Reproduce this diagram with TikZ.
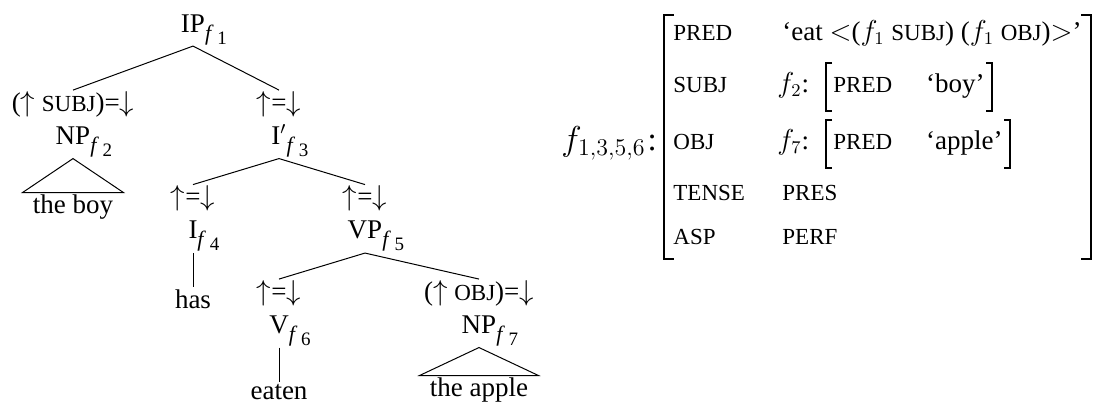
\documentclass[tikz,border=0pt]{standalone}
\usepackage[no-math]{fontspec}
\setmainfont{Liberation Serif}
\usetikzlibrary{positioning, fit}

% feature names, set as small capitals
\newcommand{\feat}[1]{{\fontsize{11.5}{13}\selectfont #1}}
% the index f_n hung after a category label
\newcommand{\fsub}[1]{\rlap{\raisebox{-4pt}{\fontsize{11}{11}\selectfont\textit{f}\,\raisebox{-2pt}{\fontsize{9.5}{9.5}\selectfont #1}}}}
\newcommand{\upeq}{$\uparrow$=$\downarrow$}
% square brackets round a node
\newcommand{\brackets}[3][]{%
  \draw[#1] ([xshift=#3]#2.north west) -| (#2.south west) -- ++(#3,0);
  \draw[#1] ([xshift=-#3]#2.north east) -| (#2.south east) -- ++(-#3,0);}

\begin{document}
\begin{tikzpicture}[
    x=0.5pt, y=-0.5pt,
    font=\fontsize{13.5}{16.5}\selectfont,
    cat/.style={align=center, inner sep=0.5pt},
    leaf/.style={inner xsep=5pt, inner ysep=1pt},
    branch/.style={line width=0.5pt},
    avm/.style={anchor=base west, inner sep=0pt, text height=0.72em, text depth=0.22em},
    innerfs/.style={avm, minimum height=23.5pt, inner xsep=3.5pt},
    outerbrk/.style={line width=1pt},
    innerbrk/.style={line width=0.75pt}
]
\useasboundingbox (0,0) rectangle (1112,403);

% c-structure
\node[cat, anchor=base] (ip) at (193,32) {IP\fsub{1}};
\node[cat, below=22pt of ip, xshift=-60pt] (np2) {($\uparrow$ \feat{SUBJ})=$\downarrow$\\NP\fsub{2}};
\node[cat, below=22pt of ip, xshift=43pt] (i3) {\upeq\\I$'$\fsub{3}};
\node[cat, below=13pt of i3, xshift=-43pt] (i4) {\upeq\\I\fsub{4}};
\node[cat, below=13pt of i3, xshift=43pt] (vp5) {\upeq\\VP\fsub{5}};
\node[cat, below=13pt of vp5, xshift=-43pt] (v6) {\upeq\\V\fsub{6}};
\node[cat, below=13pt of vp5, xshift=57pt] (np7) {($\uparrow$ \feat{OBJ})=$\downarrow$\\NP\fsub{7}};

% words
\node[leaf, below=17pt of np2] (boy) {the boy};
\node[leaf, below=17pt of i4] (has) {has};
\node[leaf, below=17pt of v6] (eaten) {eaten};
\node[leaf, below=14pt of np7] (apple) {the apple};

% branches
\draw[branch] (ip.south) -- (np2.north);
\draw[branch] (ip.south) -- (i3.north);
\draw[branch] (i3.south) -- (i4.north);
\draw[branch] (i3.south) -- (vp5.north);
\draw[branch] (vp5.south) -- (v6.north);
\draw[branch] (vp5.south) -- (np7.north);
\draw[branch] (i4.south) -- (has.north);
\draw[branch] (v6.south) -- (eaten.north);
\draw[branch] (np2.south) -- (boy.north west) -- (boy.north east) -- cycle;
\draw[branch] (np7.south) -- (apple.north west) -- (apple.north east) -- cycle;

% f-structure
\node[avm] (fname) at (561,150) {\fontsize{16.5}{18}\selectfont$f_{1,3,5,6}$\kern1pt:};
\node[avm] (apred) at (673,40) {\feat{PRED}};
\node[avm] (vpred) at (782,40) {`eat $<$($f_1$ \feat{SUBJ}) ($f_1$ \feat{OBJ})$>$'};
\node[avm] (asubj) at (673,92) {\feat{SUBJ}};
\node[avm] (lsubj) at (777,92) {$f_2$:};
\node[innerfs] (vsubj) at (826,92) {\feat{PRED}\hspace{17pt}`boy'};
\node[avm] (aobj) at (673,149) {\feat{OBJ}};
\node[avm] (lobj) at (777,149) {$f_7$:};
\node[innerfs] (vobj) at (826,149) {\feat{PRED}\hspace{17pt}`apple'};
\node[avm] (atense) at (673,200) {\feat{TENSE}};
\node[avm] (vtense) at (782,200) {\feat{PRES}};
\node[avm] (aasp) at (673,244) {\feat{ASP}};
\node[avm] (vasp) at (782,244) {\feat{PERF}};
\node[fit=(apred)(vpred)(aasp), inner xsep=4.5pt, inner ysep=5pt] (fs) {};

\brackets[outerbrk]{fs}{5pt}
\brackets[innerbrk]{vsubj}{3pt}
\brackets[innerbrk]{vobj}{3pt}

\end{tikzpicture}
\end{document}
